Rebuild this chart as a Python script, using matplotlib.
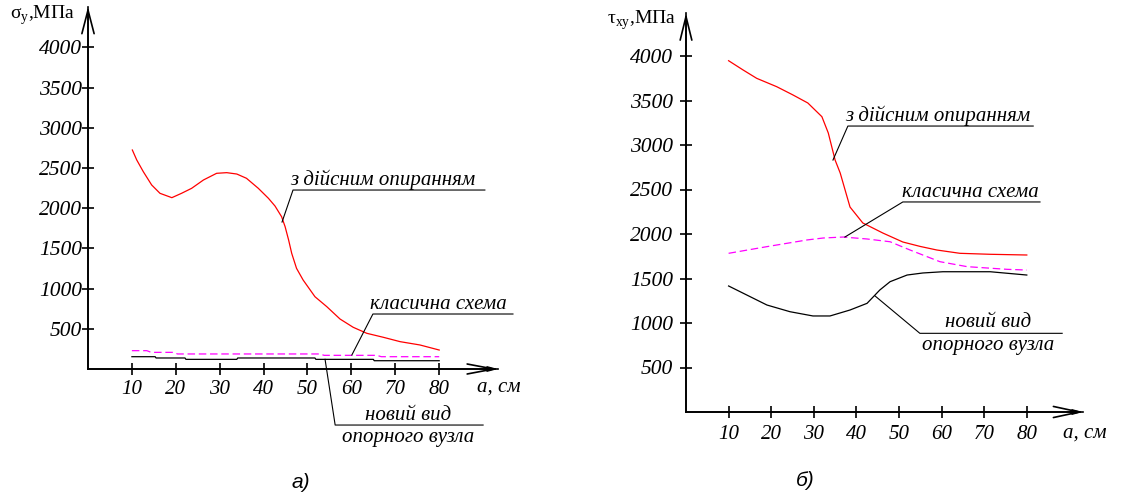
import matplotlib
matplotlib.use("Agg")
import matplotlib.pyplot as plt

# a, cm
ticks_x = [10, 20, 30, 40, 50, 60, 70, 80]
ticks_y = [500, 1000, 1500, 2000, 2500, 3000, 3500, 4000]

# panel a) sigma_y
a_real_x = [10.1, 11.1, 12.6, 14.5, 16.4, 19.1, 21.3, 23.6, 26.3, 29.3, 31.6, 33.9, 36.1, 38.8,
            41.1, 42.6, 44.1, 44.9, 45.7, 46.4, 47.5, 49.0, 51.7, 54.4, 57.4, 60.4, 63.5, 67.3,
            71.1, 75.6, 80.0]
a_real_y = [2724, 2600, 2454, 2289, 2185, 2131, 2185, 2247, 2351, 2434, 2442, 2425, 2372, 2247,
            2123, 2027, 1894, 1770, 1604, 1439, 1252, 1107, 899, 775, 622, 519, 444, 394,
            340, 299, 236]
a_classic_x = [10, 13.4, 14.4, 19.4, 20.4, 52.8, 53.8, 65.8, 66.8, 80]
a_classic_y = [228, 228, 207, 207, 187, 187, 170, 170, 153, 153]
a_new_x = [10, 15.3, 15.5, 22.1, 22.3, 33.9, 34.1, 51.7, 51.9, 65.0, 65.2, 80]
a_new_y = [153, 153, 137, 137, 120, 120, 137, 137, 120, 120, 103, 103]

# panel b) tau_xy
b_real_x = [10, 13.4, 16.6, 21.3, 25, 28.6, 31.9, 33.4, 35.0, 36.2, 38.5, 41.5, 46.2, 50.9,
            55, 58.9, 64.3, 71.4, 80]
b_real_y = [3947, 3843, 3749, 3655, 3565, 3472, 3318, 3135, 2831, 2685, 2303, 2124, 2011, 1910,
            1860, 1820, 1783, 1772, 1764]
b_classic_x = [10, 19, 28.4, 32.2, 36.9, 42.5, 47.9, 52.6, 59.6, 66, 75.4, 80]
b_classic_y = [1783, 1858, 1933, 1955, 1966, 1944, 1913, 1820, 1689, 1633, 1603, 1595]
b_new_x = [10, 19, 24.4, 29.8, 33.8, 38.5, 42.5, 45.5, 47.9, 51.9, 55.6, 60.3, 71.4, 80]
b_new_y = [1416, 1202, 1127, 1079, 1079, 1146, 1221, 1371, 1464, 1539, 1562, 1576, 1576, 1539]

label_real = "з дійсним опиранням"
label_classic = "класична схема"
label_new = ["новий вид", "опорного вузла"]

W, H = 1137, 497
SERIF = "Liberation Serif"


def make_axes(fig, x0, sx, y0, sy, xlim, ylim):
    # x0, y0: pixel of the origin, sx, sy: pixels per data unit
    left = (x0 + sx * xlim[0]) / W
    right = (x0 + sx * xlim[1]) / W
    top = y0 - sy * ylim[1]
    bot = y0 - sy * ylim[0]
    ax = fig.add_axes([left, 1 - bot / H, right - left, (bot - top) / H])
    ax.set_xlim(xlim)
    ax.set_ylim(ylim)
    ax.patch.set_visible(False)
    return ax


def setup_axes(ax, xtip, ytip, ypad, xpad, hy, hx):
    for s in ["top", "right"]:
        ax.spines[s].set_visible(False)
    ax.spines["left"].set_position(("data", 0))
    ax.spines["bottom"].set_position(("data", 0))
    ax.spines["left"].set_bounds(0, ytip)
    ax.spines["bottom"].set_bounds(0, xtip)
    for s in ["left", "bottom"]:
        ax.spines[s].set_linewidth(1.2)
    ax.set_xticks(ticks_x)
    ax.set_yticks(ticks_y)
    ax.set_xticklabels([str(t) for t in ticks_x], fontfamily=SERIF, fontstyle="italic", fontsize=15)
    ax.set_yticklabels([str(t) for t in ticks_y], fontfamily=SERIF, fontstyle="italic", fontsize=15.5)
    ax.tick_params(axis="y", direction="inout", length=9, width=1.2, pad=ypad)
    ax.tick_params(axis="x", direction="inout", length=9, width=1.2, pad=xpad)
    # arrow heads
    ax.annotate("", xy=(0, ytip), xytext=(0, 0), annotation_clip=False,
                arrowprops=dict(arrowstyle="->,head_length=%g,head_width=%g" % hy,
                                mutation_scale=1, lw=1.2, color="k", shrinkA=0, shrinkB=0))
    ax.annotate("", xy=(xtip, 0), xytext=(0, 0), annotation_clip=False,
                arrowprops=dict(arrowstyle="->,head_length=%g,head_width=%g" % hx,
                                mutation_scale=1, lw=1.2, color="k", shrinkA=0, shrinkB=0))
    ax.annotate("", xy=(xtip, 0), xytext=(xtip - 3, 0), annotation_clip=False,
                arrowprops=dict(arrowstyle="-|>,head_length=6,head_width=1.6",
                                mutation_scale=1, lw=1.0, color="k", shrinkA=0, shrinkB=0))


def leader(ax, pts):
    xs = [p[0] for p in pts]
    ys = [p[1] for p in pts]
    ax.plot(xs, ys, color="k", lw=0.8, clip_on=False)


def note(ax, x, y, s, ha="left"):
    ax.text(x, y, s, fontfamily=SERIF, fontstyle="italic", fontsize=15,
            ha=ha, va="baseline", clip_on=False)


fig = plt.figure(figsize=(W / 100, H / 100), dpi=100)

# ---- panel a)
ax1 = make_axes(fig, 88, 4.39, 369, 0.0804, (-20, 100), (-1580, 4590))
setup_axes(ax1, 93.4, 4506, 0, 3.5, (17, 4.4), (19, 3.6))
ax1.plot(a_real_x, a_real_y, color="#ff0000", lw=0.9)
ax1.plot(a_classic_x, a_classic_y, color="#ff00ff", lw=0.9, ls=(0, (6, 3)))
ax1.plot(a_new_x, a_new_y, color="k", lw=0.9)

leader(ax1, [(44.2, 1828), (46.7, 2226), (90.4, 2226)])
note(ax1, 46.0, 2289, label_real)
leader(ax1, [(60.1, 174), (64.9, 684), (96.8, 684)])
note(ax1, 64.2, 746, label_classic)
leader(ax1, [(54.0, 120), (56.3, -697), (90.0, -697)])
note(ax1, 72.9, -634, label_new[0], ha="center")
note(ax1, 72.9, -904, label_new[1], ha="center")
ax1.text(88.5, -224, "а, см", fontfamily=SERIF, fontstyle="italic", fontsize=15,
         ha="left", va="center")

# ---- panel b)
ax2 = make_axes(fig, 686, 4.26, 412, 0.089, (-20, 105), (-950, 4630))
setup_axes(ax2, 93.2, 4483, 5, 5, (17, 4.2), (18.5, 4.0))
ax2.plot(b_real_x, b_real_y, color="#ff0000", lw=0.9)
ax2.plot(b_classic_x, b_classic_y, color="#ff00ff", lw=0.9, ls=(0, (6, 3)))
ax2.plot(b_new_x, b_new_y, color="k", lw=0.9)

leader(ax2, [(34.5, 2831), (38.0, 3213), (81.5, 3213)])
note(ax2, 37.3, 3273, label_real)
leader(ax2, [(37.3, 1966), (50.9, 2360), (83.1, 2360)])
note(ax2, 50.7, 2419, label_classic)
leader(ax2, [(44.4, 1303), (54.9, 884), (88.3, 884)])
note(ax2, 70.9, 951, label_new[0], ha="center")
note(ax2, 70.9, 697, label_new[1], ha="center")
ax2.text(88.5, -236, "а, см", fontfamily=SERIF, fontstyle="italic", fontsize=15,
         ha="left", va="center")

# axis titles and captions
fig.text(10 / W, 1 - 15 / H, "σ$_\\mathregular{y}$,МПа", fontfamily=SERIF, fontsize=14,
         ha="left", va="center")
fig.text(607 / W, 1 - 20 / H, "τ$_\\mathregular{xy}$,МПа", fontfamily=SERIF, fontsize=14,
         ha="left", va="center")
fig.text(301 / W, 1 - 482 / H, "а)", fontfamily="Liberation Sans", fontstyle="italic",
         fontsize=15, ha="center", va="center")
fig.text(805 / W, 1 - 480 / H, "б)", fontfamily="Liberation Sans", fontstyle="italic",
         fontsize=15, ha="center", va="center")

fig.savefig("out.png", dpi=100)
